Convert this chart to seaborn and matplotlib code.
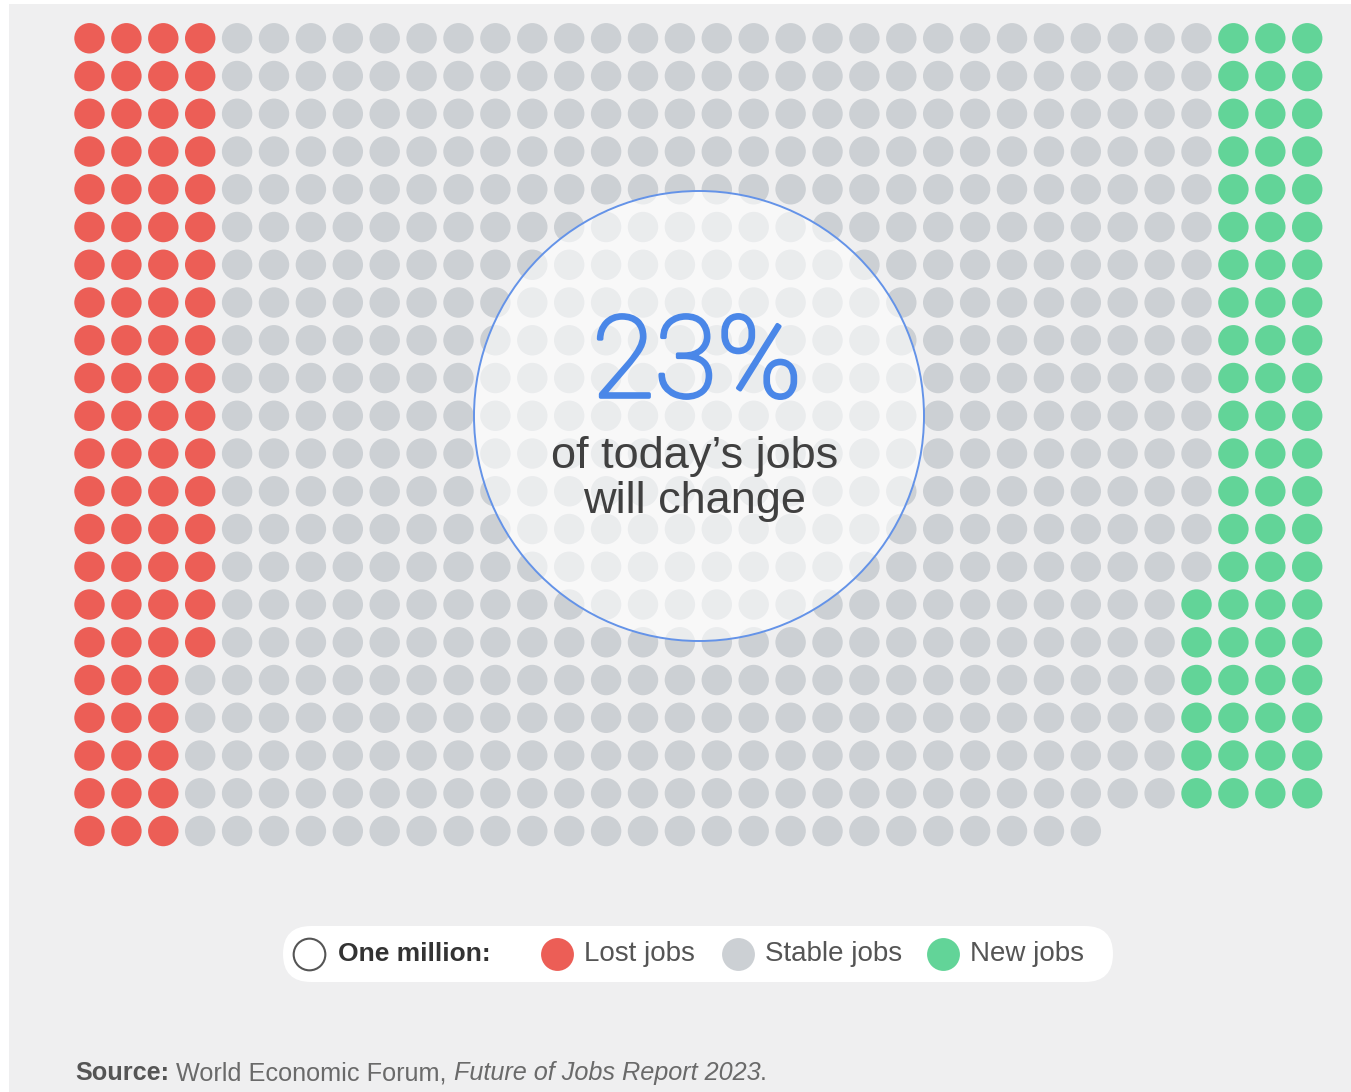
import numpy as np
import pandas as pd
import matplotlib
matplotlib.use("Agg")
import matplotlib.pyplot as plt
import matplotlib.patheffects as pe
from matplotlib.patches import Circle, FancyBboxPatch, Rectangle
import seaborn as sns

# one dot = one million jobs
categories = ["Lost jobs", "Stable jobs", "New jobs"]
counts = [83, 590, 69]
colors = ["#ec5e56", "#ccd0d4", "#62d498"]

n_rows = 22
n_cols = 34

headline = "23%"
sub_lines = ["of today\u2019s jobs", "will change"]
legend_title = "One million:"
source_parts = [("Source:", "bold", "normal"),
                (" World Economic Forum, ", "normal", "normal"),
                ("Future of Jobs Report 2023", "normal", "italic"),
                (".", "normal", "normal")]

sns.set_theme(style="white")
plt.rcParams['font.family'] = ['Liberation Sans', 'DejaVu Sans']

# dots are filled column by column, the last row is short
total = sum(counts)
last_row_len = total - (n_rows - 1) * n_cols
cols, rows = [], []
for c in range(n_cols):
    h = n_rows if c < last_row_len else n_rows - 1
    for r in range(h):
        cols.append(c)
        rows.append(r)
df = pd.DataFrame({"col": cols, "row": rows,
                   "kind": np.repeat(categories, counts)})

W, H = 1351, 1092
fig = plt.figure(figsize=(W / 100, H / 100), dpi=100)
fig.patch.set_facecolor("white")
fig.add_artist(Rectangle((9 / W, 0), 1, 1 - 4 / H, transform=fig.transFigure,
                         facecolor="#efeff0", edgecolor="none", zorder=-1))

ax = fig.add_axes([0.05259, 0.2217, 0.92865, 0.76053])
ax.patch.set_alpha(0)
sns.scatterplot(data=df, x="col", y="row", hue="kind",
                palette=dict(zip(categories, colors)), s=480, linewidth=0,
                legend=False, ax=ax)
ax.set_xlim(-0.5, n_cols - 0.5)
ax.set_ylim(n_rows - 0.5, -0.5)
ax.axis("off")

# overlay in pixel units for the callout, legend and source
ov = fig.add_axes([0, 0, 1, 1], zorder=3)
ov.patch.set_alpha(0)
ov.set_xlim(0, W)
ov.set_ylim(H, 0)
ov.axis("off")

ov.add_patch(Circle((699, 416), 225, facecolor=(1, 1, 1, 0.6),
                    edgecolor="#6493e8", lw=1.4))
ov.text(697, 397, headline, ha="center", va="baseline", fontsize=82,
        color="#4a87e8", family=["Roboto", "Liberation Sans"], fontweight="light",
        path_effects=[pe.withStroke(linewidth=2.6, foreground="#4a87e8")])
for i, line in enumerate(sub_lines):
    ov.text(695, 468 + 45 * i, line, ha="center", va="baseline",
            fontsize=32.5, color="#404040")

# legend pill
ov.add_patch(FancyBboxPatch((283, 926), 830, 56,
                            boxstyle="round,pad=0,rounding_size=28",
                            facecolor="white", edgecolor="none"))
ov.scatter([309], [954], s=520, facecolor="white", edgecolor="#555555", lw=1.5)
ov.text(338, 954, legend_title, ha="left", va="center", fontsize=19,
        fontweight="bold", color="#333333")
leg_x = [557, 738, 943]
for x, lab, col in zip(leg_x, categories, colors):
    ov.scatter([x], [954], s=560, color=col, linewidth=0)
    ov.text(x + 27, 954, lab, ha="left", va="center", fontsize=20,
            color="#555555")

# source line, pieces chained one after the other
prev = None
for txt, wt, st in source_parts:
    kw = dict(fontsize=18.2, fontweight=wt, fontstyle=st,
              color="#555555" if wt == "bold" else "#6a6a6a",
              ha="left", va="bottom")
    if prev is None:
        prev = ov.text(75, 1085, txt, **kw)
    else:
        prev = ov.annotate(txt, xy=(1, 0), xycoords=prev, **kw)

fig.savefig("out.png", dpi=100, facecolor=fig.get_facecolor())
